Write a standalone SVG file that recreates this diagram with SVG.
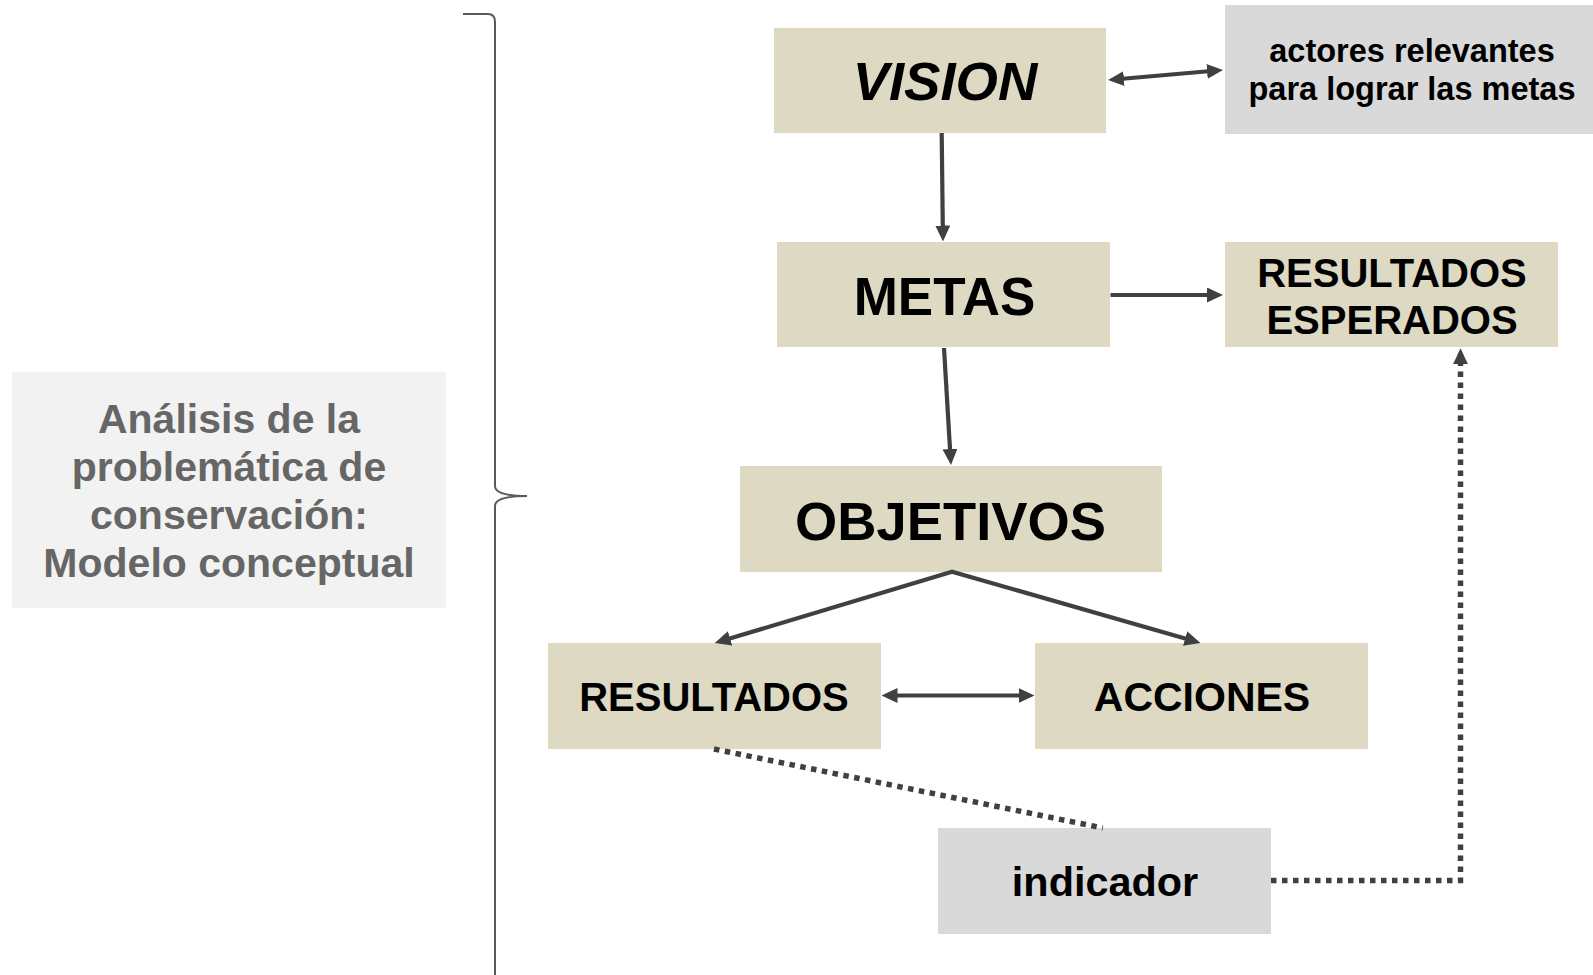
<svg xmlns="http://www.w3.org/2000/svg" width="1593" height="975" viewBox="0 0 1593 975">
<style>
.beige{fill:#ddd9c3}
.gray{fill:#d9d9d9}
.t{font-family:"Liberation Sans",Arial,sans-serif;font-weight:bold;fill:#000;text-anchor:middle}
.lt{font-family:"Liberation Sans",Arial,sans-serif;font-weight:bold;fill:#666666;text-anchor:middle;font-size:41px}
.c{stroke:#404040;fill:none;stroke-width:4.2}
.d{stroke:#404040;fill:none;stroke-width:5.5;stroke-dasharray:5.5 5.5}
</style>
<defs>
<marker id="ah" markerUnits="userSpaceOnUse" markerWidth="16" markerHeight="15" refX="10" refY="7.5" orient="auto-start-reverse" viewBox="0 0 16 15">
<path d="M0,0 L16,7.5 L0,15 z" fill="#404040"/>
</marker>
</defs>
<rect width="1593" height="975" fill="#fff"/>
<g id="analisis">
<rect x="12" y="372" width="434" height="236" fill="#f2f2f2"/>
<text class="lt" x="229" y="433">Análisis de la</text>
<text class="lt" x="229" y="481">problemática de</text>
<text class="lt" x="229" y="529">conservación:</text>
<text class="lt" x="229" y="577">Modelo conceptual</text>
</g>
<g id="llave">
<path d="M463,14 L488,14 Q495,14 495,22 L495,486 Q495,496 527,496 Q495,496 495,506 L495,975" fill="none" stroke="#595959" stroke-width="2"/>
</g>
<g id="vision">
<rect class="beige" x="774" y="28" width="332" height="105"/>
<text class="t" x="945" y="100" font-size="54.5" font-style="italic">VISION</text>
</g>
<g id="actores">
<rect class="gray" x="1225" y="5" width="368" height="129"/>
<text class="t" x="1412" y="62" font-size="32.5">actores relevantes</text>
<text class="t" x="1412" y="100" font-size="32.5">para lograr las metas</text>
</g>
<g id="metas">
<rect class="beige" x="777" y="242" width="333" height="105"/>
<text class="t" x="944.5" y="315" font-size="53">METAS</text>
</g>
<g id="resultados-esperados">
<rect class="beige" x="1225" y="242" width="333" height="105"/>
<text class="t" x="1392" y="287" font-size="40">RESULTADOS</text>
<text class="t" x="1392" y="334" font-size="40">ESPERADOS</text>
</g>
<g id="objetivos">
<rect class="beige" x="740" y="466" width="422" height="106"/>
<text class="t" x="950.5" y="540" font-size="54.3">OBJETIVOS</text>
</g>
<g id="resultados">
<rect class="beige" x="548" y="643" width="333" height="106"/>
<text class="t" x="714" y="711" font-size="40">RESULTADOS</text>
</g>
<g id="acciones">
<rect class="beige" x="1035" y="643" width="333" height="106"/>
<text class="t" x="1202" y="711" font-size="41">ACCIONES</text>
</g>
<g id="indicador">
<rect class="gray" x="938" y="828" width="333" height="106"/>
<text class="t" x="1105" y="896" font-size="41.4">indicador</text>
</g>
<g id="connectors">
<line class="c" x1="1114" y1="79.5" x2="1217" y2="70.5" marker-start="url(#ah)" marker-end="url(#ah)"/>
<line class="c" x1="941.7" y1="133" x2="942.9" y2="235.5" marker-end="url(#ah)"/>
<line class="c" x1="1110.5" y1="295" x2="1217" y2="295" stroke-width="4.5" marker-end="url(#ah)"/>
<line class="c" x1="944" y1="348" x2="950.6" y2="459" marker-end="url(#ah)"/>
<polyline class="c" points="720.5,641.3 952,571.7 1194.7,641.3" marker-start="url(#ah)" marker-end="url(#ah)"/>
<line class="c" x1="887.5" y1="695.5" x2="1028.5" y2="695.5" marker-start="url(#ah)" marker-end="url(#ah)"/>
<line class="d" x1="714" y1="749" x2="1102.8" y2="828"/>
<polyline class="d" points="1271,880.5 1460.5,880.5 1460.5,354.3" marker-end="url(#ah)"/>
</g>
</svg>
